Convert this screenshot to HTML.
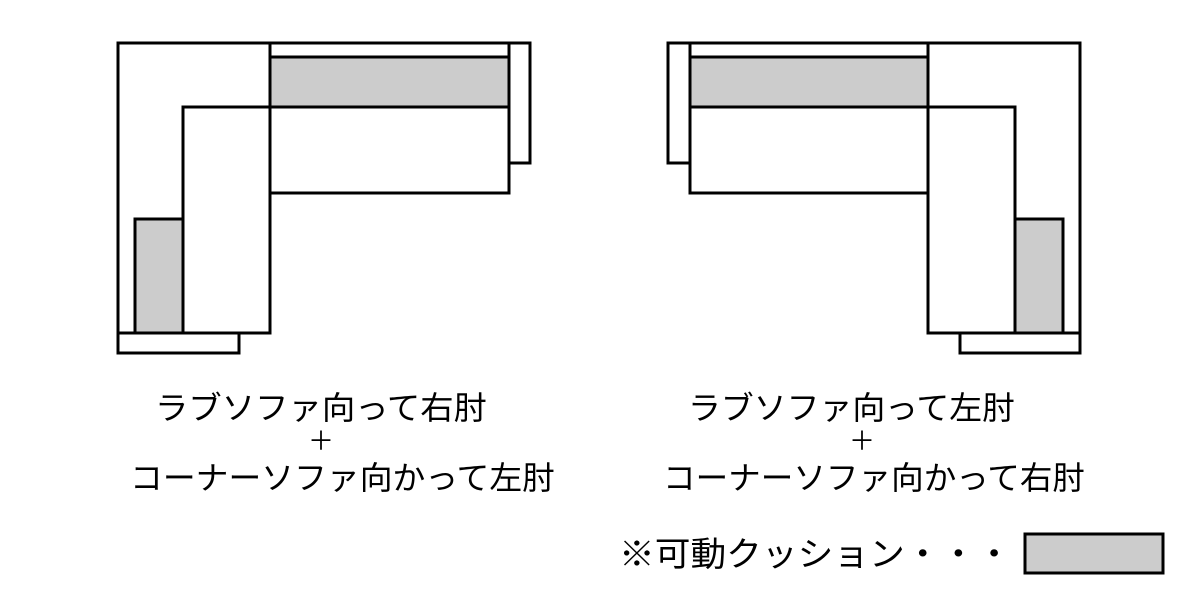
<!DOCTYPE html>
<html><head><meta charset="utf-8"><style>html,body{margin:0;padding:0;background:#fff}svg{display:block}</style></head>
<body>
<svg width="1200" height="600" xmlns="http://www.w3.org/2000/svg">
<g fill="#fff" stroke="#000" stroke-width="3">
<rect x="118" y="43" width="152" height="290"/>
<rect x="270" y="43" width="239" height="14"/>
<rect x="270" y="57" width="239" height="50" fill="#ccc"/>
<rect x="270" y="107" width="239" height="86"/>
<rect x="509" y="43" width="21" height="120"/>
<rect x="183" y="107" width="87" height="226"/>
<rect x="135" y="219" width="48" height="114" fill="#ccc"/>
<rect x="118" y="333" width="121" height="20"/>
<rect x="928" y="43" width="152" height="290"/>
<rect x="690" y="43" width="238" height="14"/>
<rect x="690" y="57" width="238" height="50" fill="#ccc"/>
<rect x="690" y="107" width="238" height="86"/>
<rect x="668" y="43" width="22" height="120"/>
<rect x="928" y="107" width="87" height="226"/>
<rect x="1015" y="219" width="48" height="114" fill="#ccc"/>
<rect x="960" y="333" width="120" height="20"/>
<rect x="1025" y="534" width="138" height="39" fill="#ccc"/>
</g>
<g font-family="'Liberation Sans','Noto Sans CJK JP',sans-serif" font-size="32" fill="#000">
<text x="155" y="419" textLength="332" lengthAdjust="spacingAndGlyphs">ラブソファ向って右肘</text>
<text x="321" y="450" text-anchor="middle" font-size="26" font-family="'Noto Sans CJK JP',sans-serif">＋</text>
<text x="130" y="489" textLength="425" lengthAdjust="spacingAndGlyphs">コーナーソファ向かって左肘</text>
<text x="688" y="419" textLength="327" lengthAdjust="spacingAndGlyphs">ラブソファ向って左肘</text>
<text x="862" y="450" text-anchor="middle" font-size="26" font-family="'Noto Sans CJK JP',sans-serif">＋</text>
<text x="663" y="489" textLength="422" lengthAdjust="spacingAndGlyphs">コーナーソファ向かって右肘</text>
<text x="619" y="566" font-size="34" textLength="393" lengthAdjust="spacingAndGlyphs">※可動クッション・・・</text>
</g>
</svg>
</body></html>
